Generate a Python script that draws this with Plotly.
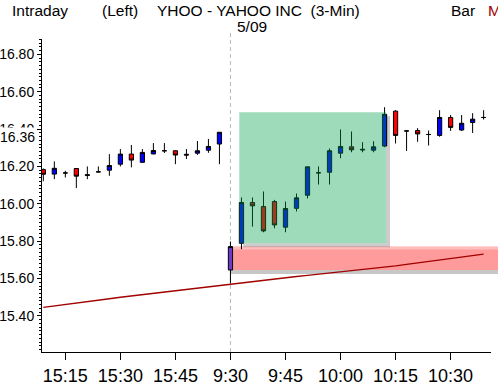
import plotly.graph_objects as go

# ---------------- data ----------------
bar_idx = list(range(-17, 24))
opens = [16.183, 16.159, 16.165, 16.189, 16.156, 16.171, 16.180, 16.212, 16.266, 16.222,
         16.267, 16.284, 16.284, 16.265, 16.271, 16.287, 16.320,
         15.646, 15.789, 16.007, 15.985, 16.012, 15.875, 15.976, 16.046, 16.166, 16.169,
         16.271, 16.305, 16.292, 16.287, 16.309, 16.496, 16.390, 16.392, 16.371, 16.366,
         16.462, 16.395, 16.435, 16.462]
highs = [16.189, 16.227, 16.177, 16.190, 16.200, 16.200, 16.266, 16.293, 16.315, 16.293,
         16.325, 16.325, 16.286, 16.293, 16.336, 16.347, 16.383,
         15.798, 16.034, 16.034, 16.066, 16.021, 16.012, 16.055, 16.198, 16.200, 16.296,
         16.398, 16.387, 16.330, 16.335, 16.517, 16.501, 16.394, 16.405, 16.392, 16.501,
         16.475, 16.475, 16.485, 16.501]
lows = [16.121, 16.132, 16.141, 16.084, 16.132, 16.170, 16.150, 16.200, 16.195, 16.220,
        16.265, 16.272, 16.212, 16.240, 16.262, 16.273, 16.212,
        15.574, 15.757, 15.878, 15.848, 15.869, 15.848, 15.959, 16.029, 16.103, 16.103,
        16.244, 16.276, 16.276, 16.276, 16.303, 16.323, 16.283, 16.332, 16.312, 16.359,
        16.390, 16.390, 16.379, 16.451]
closes = [16.158, 16.190, 16.165, 16.148, 16.152, 16.171, 16.205, 16.266, 16.234, 16.275,
          16.285, 16.284, 16.261, 16.261, 16.284, 16.307, 16.383,
          15.771, 16.007, 15.989, 15.855, 15.887, 15.975, 16.032, 16.198, 16.166, 16.284,
          16.307, 16.289, 16.289, 16.305, 16.479, 16.366, 16.390, 16.374, 16.371, 16.462,
          16.409, 16.431, 16.453, 16.462]
ma_values = [15.446, 15.453, 15.461, 15.469, 15.477, 15.484, 15.492, 15.500, 15.507, 15.514,
             15.521, 15.529, 15.536, 15.543, 15.550, 15.557, 15.564,
             15.572, 15.578, 15.585, 15.591, 15.598, 15.604, 15.611, 15.617, 15.623, 15.629,
             15.636, 15.642, 15.648, 15.655, 15.661, 15.668, 15.676, 15.684, 15.692, 15.700,
             15.708, 15.716, 15.724, 15.731]

x_tick_vals = [-15, -10, -5, 0, 5, 10, 15, 20]
x_tick_text = ["15:15", "15:30", "15:45", "9:30", "9:45", "10:00", "10:15", "10:30"]
y_tick_vals = [15.40, 15.60, 15.80, 16.00, 16.20, 16.40, 16.60, 16.80]
last_label = 16.36
session_start = 0          # 9:30 bar
gap_zone = (15.646, 15.771)    # 9:30 bar body
box_zone = (0.8, 14.13, 15.789, 16.49)

# ---------------- layout geometry ----------------
W, H = 498, 388
ML, MR, MT, MB = 42, 7, 39, 36
PW, PH = W - ML - MR, H - MT - MB
XMIN, XMAX = -17.12, 23.67
YMIN, YMAX = 15.207, 16.882
ppx = PW / (XMAX - XMIN)
ppy = PH / (YMAX - YMIN)

def px_x(px):
    return (px - ML) / PW

def px_y(py):
    return (H - MB - py) / PH

FONT = "Liberation Sans, Arial, sans-serif"
NARROW = "Liberation Sans Narrow, Arial Narrow, Liberation Sans, sans-serif"

fig = go.Figure()

day_idx = [i for i in range(len(bar_idx)) if bar_idx[i] != session_start]
first_idx = [i for i in range(len(bar_idx)) if bar_idx[i] == session_start]

def pick(arr, ids):
    return [arr[i] for i in ids]

fig.add_trace(go.Candlestick(
    x=pick(bar_idx, day_idx), open=pick(opens, day_idx), high=pick(highs, day_idx),
    low=pick(lows, day_idx), close=pick(closes, day_idx),
    increasing=dict(fillcolor="#0000ff", line=dict(color="#000000", width=1)),
    decreasing=dict(fillcolor="#ff0000", line=dict(color="#000000", width=1)),
    whiskerwidth=0, showlegend=False, hoverinfo="skip"))
fig.add_trace(go.Candlestick(
    x=pick(bar_idx, first_idx), open=pick(opens, first_idx), high=pick(highs, first_idx),
    low=pick(lows, first_idx), close=pick(closes, first_idx),
    increasing=dict(fillcolor="#7038cc", line=dict(color="#000000", width=1)),
    decreasing=dict(fillcolor="#7038cc", line=dict(color="#000000", width=1)),
    whiskerwidth=0, showlegend=False, hoverinfo="skip"))
fig.add_trace(go.Scatter(x=bar_idx, y=ma_values, mode="lines",
                         line=dict(color="#a00000", width=1.3),
                         showlegend=False, hoverinfo="skip"))

shapes = []
# dashed session divider
shapes.append(dict(type="line", xref="x", yref="paper", x0=session_start, x1=session_start,
                   y0=0, y1=px_y(32), layer="below",
                   line=dict(color="#b8b8b8", width=1, dash="4px,3px")))
# pink gap zone (below traces) with shadow
gx0 = px_x(ML + (session_start - XMIN) * ppx)
shapes.append(dict(type="rect", xref="paper", yref="y", x0=gx0, x1=1.03,
                   y0=gap_zone[0] - 4 / ppy, y1=gap_zone[1] - 3 / ppy, layer="below",
                   fillcolor="rgba(0,0,0,0.22)", line=dict(width=0)))
shapes.append(dict(type="rect", xref="paper", yref="y", x0=gx0, x1=1.03,
                   y0=gap_zone[0], y1=gap_zone[1], layer="below",
                   fillcolor="#ff9b9b", line=dict(width=0)))
shapes.append(dict(type="rect", xref="paper", yref="y", x0=gx0, x1=1.03,
                   y0=gap_zone[1] - 3 / ppy, y1=gap_zone[1], layer="below",
                   fillcolor="rgba(255,255,255,0.35)", line=dict(width=0)))
# green box with shadow (above traces)
bx0, bx1, by0, by1 = box_zone
sx, sy = 4 / ppx, 4 / ppy
shapes.append(dict(type="rect", xref="x", yref="y", x0=bx1, x1=bx1 + sx,
                   y0=by0 - sy, y1=by1 - sy, layer="above",
                   fillcolor="rgba(0,0,0,0.2)", line=dict(width=0)))
shapes.append(dict(type="rect", xref="x", yref="y", x0=bx0 + sx, x1=bx1,
                   y0=by0 - sy, y1=by0, layer="above",
                   fillcolor="rgba(0,0,0,0.2)", line=dict(width=0)))
shapes.append(dict(type="rect", xref="x", yref="y", x0=bx0, x1=bx1,
                   y0=by0, y1=by1, layer="above",
                   fillcolor="rgba(0,160,75,0.38)", line=dict(width=0)))

annotations = [
    dict(text="Intraday", x=px_x(10), y=px_y(10.5)),
    dict(text="(Left)", x=px_x(100), y=px_y(10.5)),
    dict(text="YHOO - YAHOO INC&nbsp;&nbsp;(3-Min)", x=px_x(155), y=px_y(10.5)),
    dict(text="5/09", x=px_x(235), y=px_y(26)),
    dict(text="Bar", x=px_x(449), y=px_y(10.5)),
    dict(text="MA", x=px_x(486), y=px_y(10.5), font=dict(color="#a00000", size=15.5, family=FONT)),
]
for a in annotations:
    a.update(xref="paper", yref="paper", xanchor="left", yanchor="middle", showarrow=False)
    a.setdefault("font", dict(color="#000000", size=15.5, family=FONT))

annotations.append(dict(text="%.2f" % last_label, xref="paper", yref="y", x=px_x(37),
                        y=last_label, xanchor="right", yanchor="middle", showarrow=False,
                        bgcolor="#ffffff", borderpad=1,
                        font=dict(color="#000000", size=14, family=FONT)))

fig.update_layout(
    width=W, height=H, margin=dict(l=ML, r=MR, t=MT, b=MB, autoexpand=False),
    paper_bgcolor="#ffffff", plot_bgcolor="#ffffff",
    shapes=shapes, annotations=annotations, boxgap=0.45,
    xaxis=dict(range=[XMIN, XMAX], rangeslider=dict(visible=False), automargin=False,
               tickvals=x_tick_vals, ticktext=x_tick_text,
               ticks="outside", ticklen=7, tickcolor="#000000",
               showline=True, linecolor="#000000", linewidth=1,
               showgrid=False, zeroline=False,
               tickfont=dict(family=NARROW, size=18, color="#000000")),
    yaxis=dict(range=[YMIN, YMAX], tickvals=y_tick_vals, automargin=False,
               ticktext=["%.2f" % v for v in y_tick_vals],
               ticks="outside", ticklen=4, tickcolor="#000000",
               minor=dict(dtick=0.02, ticks="outside", ticklen=2, tickcolor="#000000", showgrid=False),
               showline=True, linecolor="#000000", linewidth=1,
               showgrid=False, zeroline=False,
               tickfont=dict(family=FONT, size=14, color="#000000")),
)

fig.write_html("out.html", config={"displayModeBar": False},
               post_script="document.body.style.margin='0px';")
